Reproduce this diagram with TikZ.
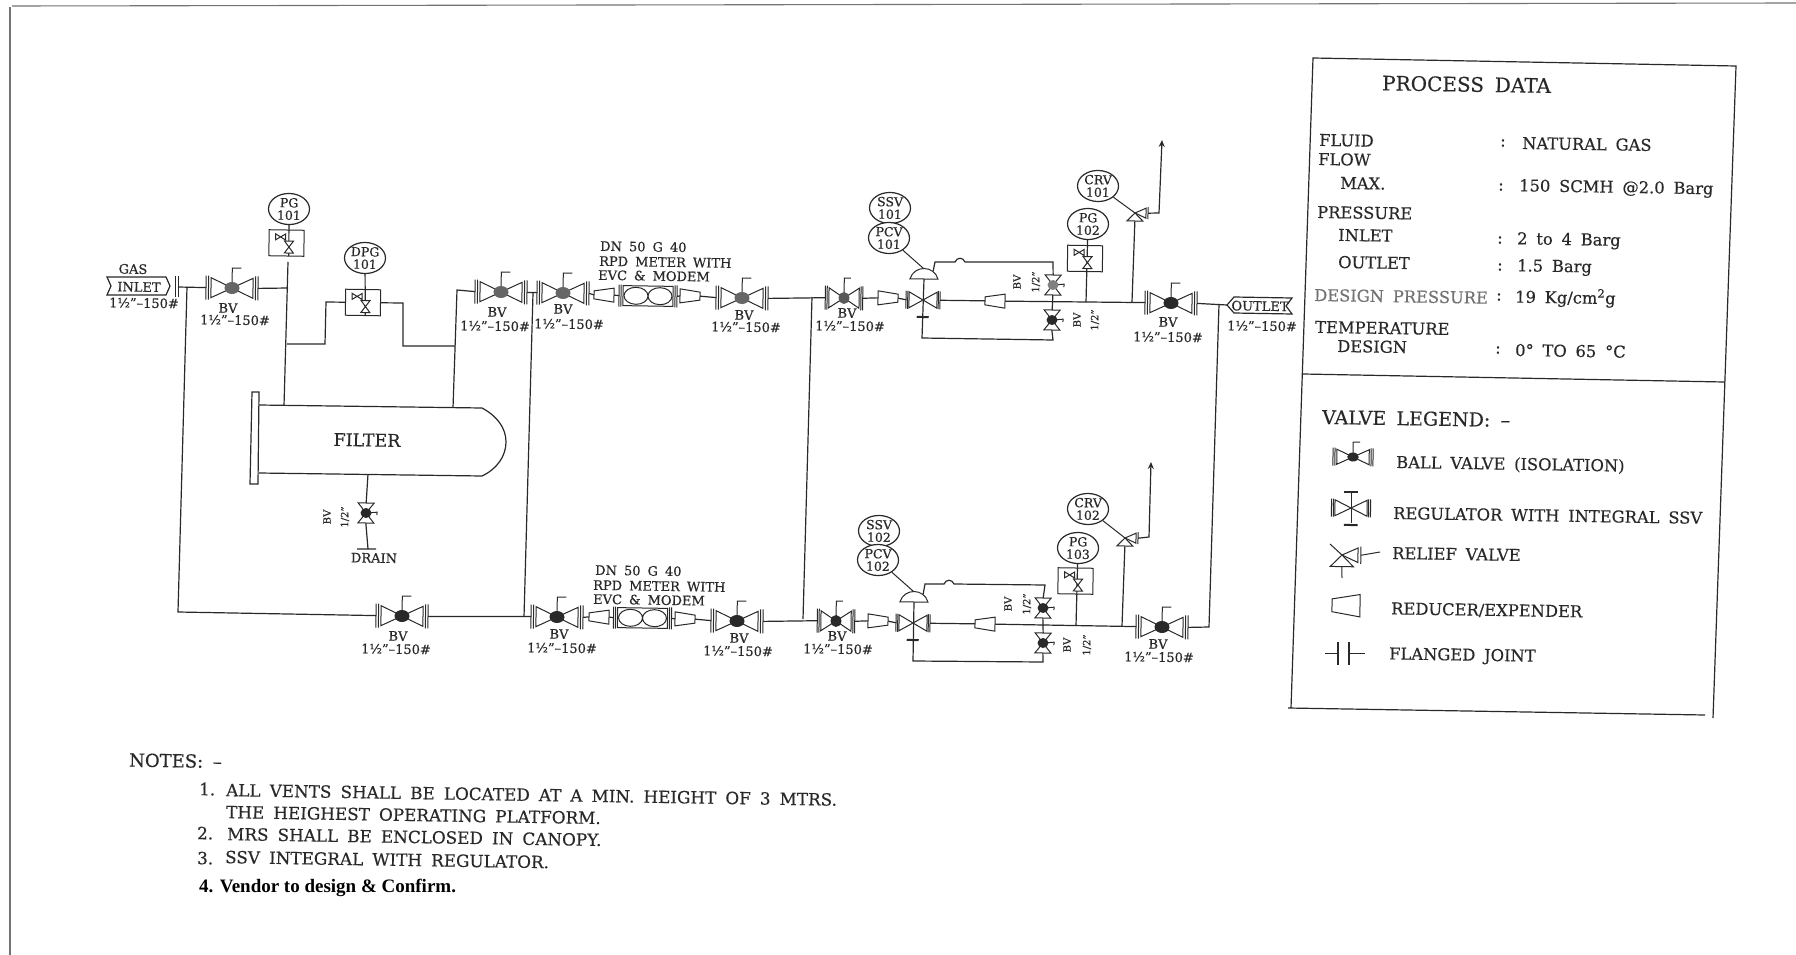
\documentclass[tikz,border=0pt]{standalone}
\usepackage{fontspec}
\usetikzlibrary{arrows.meta,shapes.geometric}
\setmainfont[WordSpace=1.7,FakeBold=0.4]{DejaVu Serif}
\newfontfamily\vendorfont{Liberation Serif}
\definecolor{ink}{gray}{0.16}
\pgfdeclarelayer{bg}
\pgfsetlayers{bg,main}
\tikzset{
 x=1pt,y=-1pt,
 every node/.style={rotate=-0.9,inner sep=0pt,text=ink},
 pipe/.style={draw=ink,line width=1.2pt},
 thin pipe/.style={draw=ink,line width=1pt},
 small/.style={font=\fontsize{13}{14}\selectfont,align=center},
 txt/.style={font=\fontsize{16.3}{18}\selectfont,anchor=west},
 notetxt/.style={font=\fontsize{16.8}{18}\selectfont,anchor=west},
 meterlbl/.style={font=\fontsize{13}{14}\selectfont,anchor=west},
 vlbl/.style={font=\fontsize{10}{11}\selectfont,rotate=90},
 inst/.style={ellipse,pipe,fill=white,minimum width=41pt,minimum height=30pt,align=center,font=\fontsize{12.5}{12.5}\selectfont},
 pics/ballv/.style={code={
  \draw[thin pipe,fill=white] (-21,-10)--(0,0)--(-21,10)--cycle (21,-10)--(0,0)--(21,10)--cycle;
  \draw[thin pipe] (-26,-12)--(-26,12) (-23.5,-12)--(-23.5,12) (26,-12)--(26,12) (23.5,-12)--(23.5,12);
  \draw[thin pipe] (0,0)--(0,-20)--(9,-20);
  \fill[#1] (0,0) ellipse [x radius=7.5,y radius=6];
  \coordinate (-l) at (-26,0); \coordinate (-r) at (26,0);
 }},
 pics/vvalve/.style={code={
  \draw[thin pipe,fill=white] (-8,-10)--(0,0)--(8,-10)--cycle (-8,10)--(0,0)--(8,10)--cycle;
  \draw[thin pipe] (0,0)--(11,-1)--(11,2);
  \fill[#1] (0,0) ellipse [x radius=5.5,y radius=5];
  \coordinate (-t) at (0,-10); \coordinate (-b) at (0,10);
 }},
 pics/regv/.style={code={
  \draw[thin pipe,fill=white] (-14,-8)--(0,0)--(-14,8)--cycle (14,-8)--(0,0)--(14,8)--cycle;
  \draw[thin pipe] (-17,-9)--(-17,9) (-15.3,-9)--(-15.3,9) (17,-9)--(17,9) (15.3,-9)--(15.3,9);
  \fill[ink] (-6,16)--(6,16)--(6,18)--(-6,18)--cycle;
  \coordinate (-l) at (-17,0); \coordinate (-r) at (17,0); \coordinate (-c) at (0,0);
 }},
 pics/domev/.style={code={
  \draw[thin pipe,fill=white] (-14,0) .. controls (-10,-14) and (10,-14) .. (14,0) -- cycle;
  \coordinate (-b) at (0,0); \coordinate (-t) at (0,-10); \coordinate (-e) at (9,-8);
 }},
 pics/redL/.style={code={
  \draw[thin pipe,fill=white] (-10,-4)--(10,-7)--(10,7)--(-10,4)--cycle;
  \coordinate (-l) at (-10,0); \coordinate (-r) at (10,0);
 }},
 pics/redR/.style={code={
  \draw[thin pipe,fill=white] (-10,-7)--(10,-4)--(10,4)--(-10,7)--cycle;
  \coordinate (-l) at (-10,0); \coordinate (-r) at (10,0);
 }},
 pics/meter/.style={code={
  \draw[thin pipe,fill=white] (-25,-10) rectangle (25,10);
  \draw[thin pipe] (-12,0) ellipse [x radius=12,y radius=8.5] (12,0) ellipse [x radius=12,y radius=8.5];
  \draw[thin pipe] (-29,-11)--(-29,11) (-27,-11)--(-27,11) (29,-11)--(29,11) (27,-11)--(27,11);
  \coordinate (-l) at (-29,0); \coordinate (-r) at (29,0);
 }},
 pics/instr/.style={code={
  \draw[thin pipe] (-17.5,-13) rectangle (17.5,13);
  \draw[thin pipe,fill=white] (-11,-9)--(-1,-3)--(-1,-9)--(-11,-3)--cycle;
  \draw[thin pipe,fill=white] (-2,-2)--(7,10)--(-2,10)--(7,-2)--cycle;
  \coordinate (-bot) at (2.5,13); \coordinate (-w) at (-17.5,0); \coordinate (-e) at (17.5,0); \coordinate (-top) at (2.5,-13);
 }},
 pics/relief/.style={code={
  \draw[thin pipe,fill=white] (0,0)--(11,-5)--(11,5)--cycle;
  \draw[thin pipe,fill=white] (0,0)--(-8,8)--(8,8)--cycle;
  \draw[thin pipe] (13,-6)--(13,6);
  \coordinate (-c) at (0,0); \coordinate (-out) at (13,0); \coordinate (-in) at (0,8);
 }},
}
\begin{document}
\begin{tikzpicture}
\useasboundingbox (0,0) rectangle (1796,955);
\begin{pgfonlayer}{bg}
\fill[white] (0,0) rectangle (1796,955);
\end{pgfonlayer}
% frame
\coordinate (fa) at (10,955); \coordinate (fb) at (10,7); \coordinate (fc) at (12,6); \coordinate (fd) at (1796,3);
\draw[draw=black!55,line width=1.4pt] (fa)--(fb);
\draw[draw=black!55,line width=1.1pt] (fc)--(fd);

% ---------- equipment
\pic (v1) at (232,288) {ballv={black!60}};
\pic (v2) at (501,292) {ballv={black!60}};
\pic (v3) at (563,293) {ballv={black!60}};
\pic (r1) at (604,295) {redL};
\pic (m1) at (648,296) {meter};
\pic (r2) at (690,296) {redR};
\pic (v4) at (742,298) {ballv={black!60}};
\pic[xscale=.72] (v5) at (844,298) {ballv={black!65}};
\pic (r3) at (888,298) {redR};
\pic (g1) at (923,300) {regv};
\pic (d1) at (924,279) {domev};
\pic (r4) at (995,301) {redL};
\pic (u1) at (1053,285) {vvalve={black!50}};
\pic (w1) at (1052,320) {vvalve={ink}};
\pic (v6) at (1171,303) {ballv={ink}};
\pic (x1) at (1135,213) {relief};

\pic (b1) at (402,616) {ballv={ink}};
\pic (b2) at (557,617) {ballv={ink}};
\pic (r5) at (599,617) {redL};
\pic (m2) at (642.5,618) {meter};
\pic (r6) at (685,619) {redR};
\pic (b3) at (737,621) {ballv={ink}};
\pic[xscale=.72] (b4) at (836,621) {ballv={ink}};
\pic (r7) at (878,621) {redR};
\pic (g2) at (913,623) {regv};
\pic (d2) at (914,602) {domev};
\pic (r8) at (985,624) {redL};
\pic (u2) at (1043,608) {vvalve={ink}};
\pic (w2) at (1043,643) {vvalve={ink}};
\pic (b5) at (1162,627) {ballv={ink}};
\pic (x2) at (1125,538) {relief};

\pic (dv) at (366,513) {vvalve={ink}};

\pic (i1) at (286.5,243) {instr};
\pic (i2) at (363,302.5) {instr};
\pic (i3) at (1085,258.5) {instr};
\pic (i4) at (1075.5,581) {instr};

% ---------- instruments
\node[inst] (pg1) at (289,209) {PG\\101};
\node[inst] (dpg) at (365,258) {DPG\\101};
\node[inst] (ssv1) at (890,208) {SSV\\101};
\node[inst] (pcv1) at (889,238) {PCV\\101};
\node[inst] (ssv2) at (879,531) {SSV\\102};
\node[inst] (pcv2) at (878,560) {PCV\\102};
\node[inst] (pg2) at (1088,224) {PG\\102};
\node[inst] (pg3) at (1078,548) {PG\\103};
\node[inst] (crv1) at (1098,186) {CRV\\101};
\node[inst] (crv2) at (1088,509) {CRV\\102};

% ---------- tags and vessel
\draw[pipe,fill=white] (107,277)--(166,277)--(170,286)--(166,295)--(107,295)--(111,286)--cycle;
\node[small] (inlet) at (139,287) {INLET};
\coordinate (inr) at (170,286);
\coordinate (infl) at (178,287);
\draw[thin pipe] (175,276)--(175,297) (178,276)--(178,297);
\draw[pipe,fill=white] (1234,297)--(1292,298)--(1286,306)--(1292,314)--(1234,313)--(1227,305)--cycle;
\node[small] (outlet) at (1260,306) {OUTLET};
\coordinate (outl) at (1227,305);

\coordinate (ft1) at (284,406); \coordinate (ft2) at (453,408); \coordinate (fb1) at (368,474);
\draw[pipe,fill=white] (259,405)--(482,408) .. controls (497,416) and (506,428) .. (506,442) .. controls (506,456) and (497,469) .. (482,476) -- (259,473);
\draw[pipe,fill=white] (252,392)--(259,392)--(258,484)--(250,484)--cycle;
\node[font=\fontsize{17.5}{19}\selectfont] (filt) at (367,440) {FILTER};

% ---------- connectors on the layer beneath
\begin{pgfonlayer}{bg}
 \coordinate (j0) at (187,287); \coordinate (j0b) at (178,612);
 \coordinate (j1) at (288,288); \coordinate (j1t) at (288,262);
 \coordinate (j2) at (287,344); \coordinate (j2a) at (325,344); \coordinate (j2b) at (326,302);
 \coordinate (j3) at (403,303); \coordinate (j3b) at (403,346); \coordinate (j3c) at (455,346);
 \coordinate (j4) at (457,290);
 \coordinate (j5) at (533,293); \coordinate (j5b) at (524,617);
 \coordinate (j6) at (812,297); \coordinate (j6b) at (803,619);
 \coordinate (j7) at (1219,304); \coordinate (j7b) at (1209,627);
 \coordinate (j8) at (922,338); \coordinate (j8b) at (1053,340);
 \coordinate (j9) at (913,661); \coordinate (j9b) at (1043,662);
 \coordinate (k1) at (935,262); \coordinate (k1b) at (1053,262);
 \coordinate (k2) at (925,584); \coordinate (k2b) at (1045,585);
 \coordinate (dr) at (368,549); \coordinate (drl) at (357,549); \coordinate (drr) at (376,549);
 \coordinate (e1) at (1159,213); \coordinate (e1t) at (1162,140);
 \coordinate (e2) at (1149,537); \coordinate (e2t) at (1151,462);
 \coordinate (p1) at (1086,302); \coordinate (p2) at (1132,302);
 \coordinate (p3) at (1076,626); \coordinate (p4) at (1122,626);

 \draw[pipe] (infl)--(v1-l) (v1-r)--(j1) (j1t)--(ft1);
 \draw[pipe] (j0)--(j0b)--(b1-l) (b1-r)--(b2-l);
 \draw[pipe] (j2)--(j2a)--(j2b)--(i2-w) (i2-e)--(j3)--(j3b)--(j3c);
 \draw[pipe] (v2-l)--(j4)--(ft2);
 \draw[pipe] (v2-r)--(v3-l) (j5)--(j5b);
 \draw[pipe] (v3-r)--(r1-l) (r1-r)--(m1-l) (m1-r)--(r2-l) (r2-r)--(v4-l) (v4-r)--(v5-l);
 \draw[pipe] (j6)--(j6b);
 \draw[pipe] (v5-r)--(r3-l) (r3-r)--(g1-l) (g1-r)--(r4-l) (r4-r)--(v6-l) (v6-r)--(outl);
 \draw[pipe] (j7)--(j7b)--(b5-r);
 \draw[pipe] (b2-r)--(r5-l) (r5-r)--(m2-l) (m2-r)--(r6-l) (r6-r)--(b3-l) (b3-r)--(b4-l);
 \draw[pipe] (b4-r)--(r7-l) (r7-r)--(g2-l) (g2-r)--(r8-l) (r8-r)--(b5-l);
 % regulators' stems and by-pass
 \draw[pipe] (d1-b)--(j8)--(j8b)--(w1-b) (u1-b)--(w1-t);
 \draw[pipe] (d2-b)--(j9)--(j9b)--(w2-b) (u2-b)--(w2-t);
 \draw[pipe] (d1-e)--(k1) -- (955,262) .. controls (957,257) and (963,257) .. (965,262) -- (k1b)--(u1-t);
 \draw[pipe] (d2-e)--(k2) -- (944,584) .. controls (946,579) and (952,579) .. (954,584) -- (k2b)--(u2-t);
 \draw[thin pipe] (pcv1)--(d1-t);
 \draw[thin pipe] (pcv2)--(d2-t);
 % instruments
 \draw[pipe] (pg1)--(i1-bot);
 \draw[pipe] (dpg)--(i2-bot);
 \draw[pipe] (pg2)--(p1);
 \draw[pipe] (pg3)--(p3);
 \draw[thin pipe] (crv1)--(x1-c);
 \draw[thin pipe] (crv2)--(x2-c);
 \draw[pipe] (x1-in)--(p2);
 \draw[pipe] (x2-in)--(p4);
 \draw[pipe,-{Stealth[length=7pt,width=6pt]}] (x1-out)--(e1)--(e1t);
 \draw[pipe,-{Stealth[length=7pt,width=6pt]}] (x2-out)--(e2)--(e2t);
 % drain
 \draw[pipe] (fb1)--(dv-t) (dv-b)--(dr) (drl)--(drr);
\end{pgfonlayer}

% ---------- labels
\node[small] (gas) at (133,269) {GAS};
\node[small] (s0) at (144,303) {1½"–150\#};
\node[small] (l1) at (228,308) {BV}; \node[small] (s1) at (235,320) {1½"–150\#};
\node[small] (l2) at (497,312) {BV}; \node[small] (s2) at (495,326) {1½"–150\#};
\node[small] (l3) at (563,309) {BV}; \node[small] (s3) at (569,324) {1½"–150\#};
\node[small] (l4) at (744,315) {BV}; \node[small] (s4) at (746,327) {1½"–150\#};
\node[small] (l5) at (847,313) {BV}; \node[small] (s5) at (850,326) {1½"–150\#};
\node[small] (l6) at (1168,322) {BV}; \node[small] (s6) at (1168,337) {1½"–150\#};
\node[small] (s7) at (1262,326) {1½"–150\#};
\node[small] (l7) at (398,636) {BV}; \node[small] (s8) at (396,649) {1½"–150\#};
\node[small] (l8) at (559,634) {BV}; \node[small] (s9) at (562,648) {1½"–150\#};
\node[small] (l9) at (739,638) {BV}; \node[small] (s10) at (738,651) {1½"–150\#};
\node[small] (l10) at (837,636) {BV}; \node[small] (s11) at (838,649) {1½"–150\#};
\node[small] (l11) at (1158,644) {BV}; \node[small] (s12) at (1159,657) {1½"–150\#};
\node[small] (drain) at (374,558) {DRAIN};

\node[vlbl] (vd1) at (327,517) {BV}; \node[vlbl] (vd2) at (345,517) {1/2"};
\node[vlbl] (vu1) at (1017,282) {BV}; \node[vlbl] (vu2) at (1036,282) {1/2"};
\node[vlbl] (vw1) at (1077,320) {BV}; \node[vlbl] (vw2) at (1095,320) {1/2"};
\node[vlbl] (vx1) at (1008,604) {BV}; \node[vlbl] (vx2) at (1027,604) {1/2"};
\node[vlbl] (vy1) at (1067,645) {BV}; \node[vlbl] (vy2) at (1087,645) {1/2"};

\node[meterlbl] (mt1) at (600,246) {DN 50 G 40};
\node[meterlbl] (mt2) at (599,261) {RPD METER WITH};
\node[meterlbl] (mt3) at (598,275) {EVC \& MODEM};
\node[meterlbl] (mb1) at (595,570) {DN 50 G 40};
\node[meterlbl] (mb2) at (593,585) {RPD METER WITH};
\node[meterlbl] (mb3) at (593,599) {EVC \& MODEM};

% ---------- data box
\coordinate (pa) at (1313,58); \coordinate (pb) at (1736,66); \coordinate (pc) at (1713,718); \coordinate (pd) at (1291,708);
\coordinate (pe) at (1303,374); \coordinate (pf) at (1724,382); \coordinate (pg) at (1705,715); \coordinate (ph) at (1288,708);
\draw[pipe] (pd)--(pa)--(pb)--(pc) (pe)--(pf) (ph)--(pg);

\node[txt,font=\fontsize{20}{22}\selectfont] (d0) at (1382,83) {PROCESS DATA};
\node[txt] (d1t) at (1319,140) {FLUID};
\node[txt] (d2t) at (1318,159) {FLOW};
\node[txt] (d3t) at (1340,183) {MAX.};
\node[txt] (d4t) at (1317,212) {PRESSURE};
\node[txt] (d5t) at (1338,235) {INLET};
\node[txt] (d6t) at (1338,262) {OUTLET};
\node[txt,text=black!55] (d7t) at (1314,295) {DESIGN PRESSURE};
\node[txt] (d8t) at (1315,327) {TEMPERATURE};
\node[txt] (d9t) at (1337,346) {DESIGN};
\node[txt] (c1) at (1500,143) {:}; \node[txt] (a1) at (1522,143) {NATURAL GAS};
\node[txt] (c2) at (1498,187) {:}; \node[txt] (a2) at (1519,187) {150 SCMH @2.0 Barg};
\node[txt] (c3) at (1497,240) {:}; \node[txt] (a3) at (1517,240) {2 to 4 Barg};
\node[txt] (c4) at (1497,267) {:}; \node[txt] (a4) at (1517,267) {1.5 Barg};
\node[txt] (c5) at (1496,297) {:}; \node[txt] (a5) at (1515,297) {19 Kg/cm\textsuperscript{2}g};
\node[txt] (c6) at (1495,350) {:}; \node[txt] (a6) at (1515,350) {0° TO 65 °C};

\node[txt,font=\fontsize{19}{21}\selectfont] (vl) at (1322,417) {VALVE LEGEND: –};
\node[txt] (t1) at (1396,463) {BALL VALVE (ISOLATION)};
\node[txt] (t2) at (1393,513) {REGULATOR WITH INTEGRAL SSV};
\node[txt] (t3) at (1392,553) {RELIEF VALVE};
\node[txt] (t4) at (1391,609) {REDUCER/EXPENDER};
\node[txt] (t5) at (1389,655) {FLANGED JOINT};

% legend symbols
\pic[xscale=.77,yscale=.75] (lg1) at (1353,457) {ballv={ink}};
\pic[xscale=1.15] (lg2) at (1351,508) {regv};
\draw[line width=2pt,draw=ink] (1344,492)--(1358,492);
\draw[thin pipe] (1351,492)--(1351,523);
\pic[scale=1.45] (lg3) at (1342,555) {relief};
\coordinate (lg3a) at (1330,544); \coordinate (lg3b) at (1380,552); \coordinate (lg3c) at (1342,578);
\draw[thin pipe] (lg3a)--(lg3-c) (lg3-out)--(lg3b) (lg3-in)--(lg3c);
\pic[xscale=1.4,yscale=1.6] (lg4) at (1346,605.5) {redL};
\coordinate (lf1) at (1325,653); \coordinate (lf2) at (1338,653); \coordinate (lf3) at (1349,653); \coordinate (lf4) at (1365,653);
\draw[thin pipe] (lf1)--(lf2) (lf3)--(lf4);
\draw[pipe] (1338,642)--(1338,665) (1349,642)--(1349,665);

% ---------- notes
\node[notetxt,font=\fontsize{18}{20}\selectfont] (n0) at (129,760) {NOTES: –};
\node[notetxt] (n1) at (199,789) {1.};
\node[notetxt] (n1a) at (226,790) {ALL VENTS SHALL BE LOCATED AT A MIN. HEIGHT OF 3 MTRS.};
\node[notetxt] (n1b) at (226,812) {THE HEIGHEST OPERATING PLATFORM.};
\node[notetxt] (n2) at (197,833) {2.};
\node[notetxt] (n2a) at (227,834) {MRS SHALL BE ENCLOSED IN CANOPY.};
\node[notetxt] (n3) at (197,858) {3.};
\node[notetxt] (n3a) at (225,857) {SSV INTEGRAL WITH REGULATOR.};
\node[anchor=west,rotate=0.9,font=\vendorfont\bfseries\fontsize{19}{21}\selectfont,text=black] (n4) at (199,888) {4. Vendor to design \& Confirm.};
\end{tikzpicture}
\end{document}
